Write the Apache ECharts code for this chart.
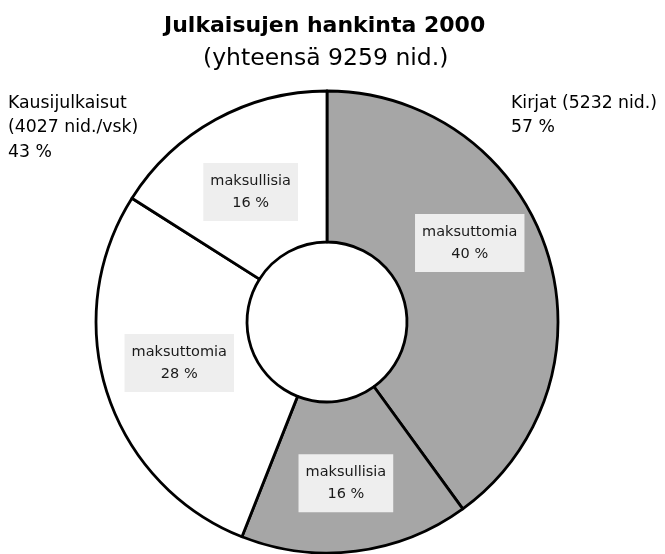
<!DOCTYPE html>
<html>
<head>
<meta charset="utf-8">
<script src="https://cdn.jsdelivr.net/npm/echarts@6/dist/echarts.min.js"></script>
<style>
  html, body { margin: 0; padding: 0; background: #fff; }
  #chart { width: 665px; height: 554px; }
</style>
</head>
<body>
<div id="chart"></div>
<script>
// segments clockwise from 12 o'clock
const segmentNames = ['maksuttomia', 'maksullisia', 'maksuttomia', 'maksullisia'];
const segmentShares = [40, 16, 28, 16];
const segmentGroups = ['Kirjat', 'Kirjat', 'Kausijulkaisut', 'Kausijulkaisut'];

// group labels outside the ring
const groupNames = ['Kausijulkaisut', 'Kirjat'];
const groupCounts = ['(4027 nid./vsk)', '(5232 nid.)'];
const groupShares = [43, 57];

const titleText = 'Julkaisujen hankinta 2000';
const subtitleText = '(yhteensä 9259 nid.)';

const FONT = 'DejaVu Sans';
const groupColor = { 'Kirjat': '#a6a6a6', 'Kausijulkaisut': '#ffffff' };

// small nudges so the inside labels sit where the original put them
const labelNudge = [[-8, -30], [-1, 4], [3, -8], [0, 9]];

const chart = echarts.init(document.getElementById('chart'));

const option = {
  animation: false,
  title: [
    {
      text: titleText,
      left: 164,
      top: 15,
      padding: 0,
      textStyle: { fontFamily: FONT, fontSize: 22, fontWeight: 'bold', color: '#000' }
    },
    {
      text: subtitleText,
      left: 203,
      top: 47,
      padding: 0,
      textStyle: { fontFamily: FONT, fontSize: 23.5, fontWeight: 'normal', color: '#000' }
    }
  ],
  graphic: [
    {
      type: 'text',
      left: 8,
      top: 91,
      style: {
        text: groupNames[0] + '\n' + groupCounts[0] + '\n' + groupShares[0] + ' %',
        font: '17.3px "' + FONT + '"',
        lineHeight: 24.5,
        fill: '#000'
      }
    },
    {
      type: 'text',
      left: 511,
      top: 91,
      style: {
        text: groupNames[1] + ' ' + groupCounts[1] + '\n' + groupShares[1] + ' %',
        font: '17.3px "' + FONT + '"',
        lineHeight: 24.5,
        fill: '#000'
      }
    }
  ],
  series: [
    {
      type: 'pie',
      center: [327, 322],
      radius: [80, 231],
      startAngle: 90,
      clockwise: true,
      silent: true,
      data: segmentNames.map((n, i) => ({
        name: n,
        value: segmentShares[i],
        itemStyle: { color: groupColor[segmentGroups[i]] }
      })),
      itemStyle: { borderColor: '#000', borderWidth: 2.8 },
      label: {
        show: true,
        position: 'inside',
        formatter: '{b}\n{c} %',
        fontFamily: FONT,
        fontSize: 14.5,
        lineHeight: 22,
        color: '#1a1a1a',
        backgroundColor: '#eeeeee',
        padding: [7, 7]
      },
      labelLine: { show: false },
      labelLayout: function (params) {
        const d = labelNudge[params.dataIndex];
        return { dx: d[0], dy: d[1] };
      }
    }
  ]
};

chart.setOption(option);
</script>
</body>
</html>
